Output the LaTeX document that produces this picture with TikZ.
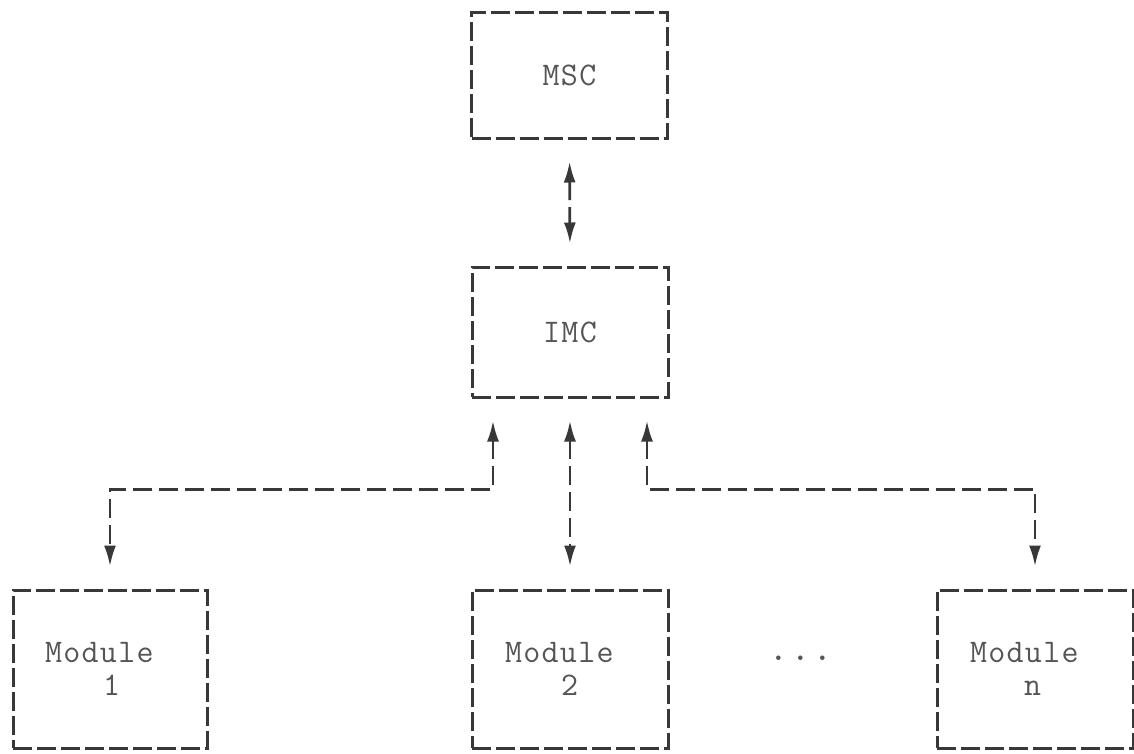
\documentclass[tikz,border=0pt]{standalone}
\usepackage{fontspec}
\newfontfamily\typewriter{Latin Modern Mono}[LetterSpace=4]
\usetikzlibrary{arrows.meta}
\definecolor{ink}{HTML}{383838}
\definecolor{typeink}{HTML}{555555}
\tikzset{
  typed/.style={font=\typewriter\fontsize{33}{36}\selectfont, text=typeink},
  unitbox/.style={draw=ink, line width=3pt, dash pattern=on 19pt off 5pt,
    minimum width=196pt, inner sep=0pt, typed},
  modbox/.style={unitbox, minimum height=158pt, align=left, text width=130pt},
  conn/.style={draw=ink, line width=2.8pt, dash pattern=on 19pt off 7pt,
    {Latex[length=21pt,width=12pt]}-{Latex[length=21pt,width=12pt]},
    shorten <=22pt, shorten >=22pt},
}
\begin{document}
\begin{tikzpicture}[x=1pt,y=-1pt]
  \useasboundingbox (0,0) rectangle (1134,753);

  % control units
  \node[unitbox, minimum height=126pt] (msc) at (569.5,75) {MSC};
  \node[unitbox, minimum height=130pt] (imc) at (570,332) {IMC};

  % modules
  \node[modbox, minimum width=194pt] (m1) at (110,669)
    {Module\\[-3pt]\hspace*{58pt}1};
  \node[modbox] (m2) at (570,669)
    {Module\\[-3pt]\hspace*{56pt}2};
  \node[modbox] (mn) at (1035,669)
    {Module\\[-3pt]\hspace*{54pt}n};
  \node[typed, font=\typewriter\fontsize{40}{40}\selectfont] (dots) at (801,658) {...};

  % links
  \draw[conn] (msc.south) -- (imc.north);
  \draw[conn] ([xshift=-77pt]imc.south) -- ++(0,91) -| (m1.north);
  \draw[conn] (imc.south) -- (m2.north);
  \draw[conn] ([xshift=77pt]imc.south) -- ++(0,91) -| (mn.north);
\end{tikzpicture}
\end{document}
